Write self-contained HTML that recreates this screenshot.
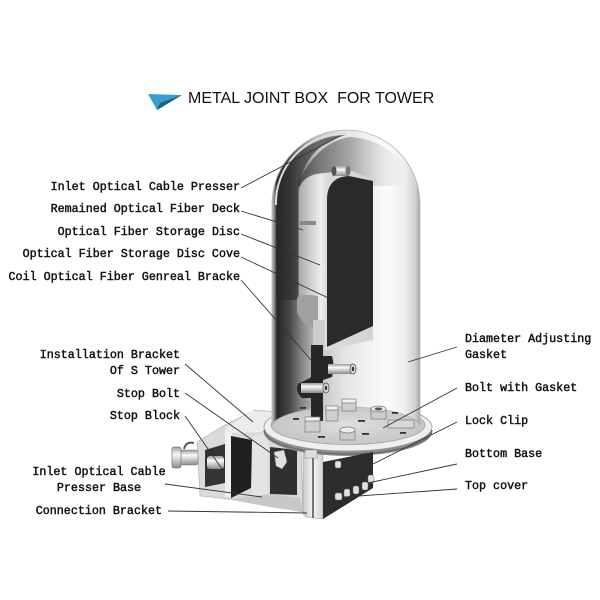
<!DOCTYPE html>
<html><head><meta charset="utf-8"><style>
html,body{margin:0;padding:0;background:#fff;width:600px;height:600px;overflow:hidden}
svg{display:block}
.l{font-family:"Liberation Mono","Noto Sans CJK SC",monospace;font-size:11.7px;fill:#111;stroke:#111;stroke-width:0.45px}
.t{font-family:"Liberation Sans",Arial,sans-serif;font-size:16px;fill:#111;white-space:pre}
.ld{stroke:#333;stroke-width:0.9;fill:none}
</style></head><body>
<svg width="600" height="600" viewBox="0 0 600 600" xmlns="http://www.w3.org/2000/svg">
<defs>
 <linearGradient id="cyl" gradientUnits="userSpaceOnUse" x1="272" y1="0" x2="420" y2="0">
  <stop offset="0" stop-color="#c4c4c4"/>
  <stop offset="0.015" stop-color="#8a8a8a"/>
  <stop offset="0.035" stop-color="#262626"/>
  <stop offset="0.12" stop-color="#474747"/>
  <stop offset="0.2" stop-color="#858585"/>
  <stop offset="0.3" stop-color="#c0c0c0"/>
  <stop offset="0.5" stop-color="#e6e6e6"/>
  <stop offset="0.78" stop-color="#fbfbfb"/>
  <stop offset="0.9" stop-color="#eeeeee"/>
  <stop offset="0.97" stop-color="#cfcfcf"/>
  <stop offset="1" stop-color="#a6a6a6"/>
 </linearGradient>
 <linearGradient id="topband" x1="0" y1="0" x2="1" y2="0">
  <stop offset="0" stop-color="#333"/>
  <stop offset="0.45" stop-color="#888"/>
  <stop offset="1" stop-color="#e8e8e8" stop-opacity="0"/>
 </linearGradient>
 <linearGradient id="panel" gradientUnits="userSpaceOnUse" x1="299" y1="0" x2="373" y2="0">
  <stop offset="0" stop-color="#a8a8a8"/>
  <stop offset="0.15" stop-color="#cfcfcf"/>
  <stop offset="0.3" stop-color="#ededed"/>
  <stop offset="0.38" stop-color="#dadada"/>
  <stop offset="1" stop-color="#d4d4d4"/>
 </linearGradient>
 <linearGradient id="pin" x1="0" y1="0" x2="0" y2="1">
  <stop offset="0" stop-color="#9a9a9a"/>
  <stop offset="0.35" stop-color="#fafafa"/>
  <stop offset="1" stop-color="#8a8a8a"/>
 </linearGradient>
 <linearGradient id="front" x1="0" y1="0" x2="1" y2="0">
  <stop offset="0" stop-color="#c8c8c8"/>
  <stop offset="0.5" stop-color="#f4f4f4"/>
  <stop offset="1" stop-color="#d0d0d0"/>
 </linearGradient>
 <radialGradient id="plate" cx="0.5" cy="0.5" r="0.5">
  <stop offset="0" stop-color="#dedede"/>
  <stop offset="1" stop-color="#c6c6c6"/>
 </radialGradient>
</defs>

<!-- title -->
<polygon points="148,94 182,95 157,110" fill="#3a9fd0"/>
<polygon points="160,103 182,95 157,110" fill="#1d5f7f"/>
<text class="t" x="188" y="103">METAL JOINT BOX&#160; FOR TOWER</text>

<!-- left bracket -->
<polygon points="197,442 225,425 255,410 300,414 303,512 270,506 232,499 200,496" fill="#dadada" stroke="#aaa" stroke-width="0.6"/>
<polygon points="225,428 252,411 292,413 300,422 262,432 232,433" fill="#ececec"/>
<polygon points="205,450 225,444 225,483 205,487" fill="#333"/>
<rect x="207" y="456" width="17" height="13" rx="3" fill="url(#pin)"/>
<polygon points="225,429 232,433 232,498 225,497" fill="#f0f0f0"/>
<polygon points="231,436 252,440 251,488 231,498" fill="#1f1f1f"/>
<polygon points="252,436 268,434 268,500 252,496" fill="#e4e4e4"/>
<polygon points="270,447 297,450 297,495 270,494" fill="#303030"/>
<path d="M274,452 L284,450 L287,462 L282,469 L276,466 Z" fill="#e0e0e0" stroke="#777" stroke-width="0.5"/>
<polygon points="200,496 232,499 270,494 300,498 303,512 270,507 232,500" fill="#c8c8c8"/>
<!-- cable presser -->
<rect x="180" y="450" width="18" height="15" rx="2" fill="url(#pin)" stroke="#777" stroke-width="0.5"/>
<rect x="172" y="447" width="9" height="21" rx="2" fill="url(#pin)" stroke="#666" stroke-width="0.6"/>
<path d="M184,449 Q186,441 194,443" stroke="#555" stroke-width="2" fill="none"/>

<!-- flange -->
<ellipse cx="348" cy="432" rx="84" ry="24" fill="#8c8c8c"/>
<ellipse cx="348" cy="427" rx="84" ry="24" fill="#efefef" stroke="#999" stroke-width="0.8"/>
<ellipse cx="348" cy="425" rx="77" ry="19.5" fill="url(#plate)" stroke="#a2a2a2" stroke-width="0.8"/>

<!-- cylinder / dome -->
<path d="M272,427 L272,204 A74,74 0 0 1 420,204 L420,427 A74,20 0 0 0 272,427 Z" fill="url(#cyl)" stroke="#b5b5b5" stroke-width="0.8"/>
<path d="M276,300 L276,205 A70,70 0 0 1 346,135 Q305,145 298,190 L298,300 Z" fill="#2a2a2a" opacity="0.6"/>
<path d="M298,182 Q318,142 350,137 Q392,140 412,178 L412,186 L298,186 Z" fill="url(#topband)" opacity="0.7"/>
<path d="M276,205 A70,70 0 0 1 346,133" stroke="#dcdcdc" stroke-width="2" fill="none"/>

<!-- storage disc panel -->
<path d="M299,300 L299,192 Q300,178 316,174 L350,170 L373,180 L373,340 L327,350 L318,350 L318,300 Z" fill="url(#panel)"/>
<path d="M297,298 Q300,293 318,296 L318,328 Q302,326 297,312 Z" fill="#a0a0a0"/>
<rect x="313" y="320" width="12" height="30" fill="#cdcdcd"/>
<rect x="300" y="221" width="16" height="4" fill="#8a8a8a"/>
<!-- top pin -->
<rect x="333" y="166" width="15" height="10" fill="url(#pin)"/>
<ellipse cx="334" cy="171" rx="2.5" ry="5" fill="#555"/>
<ellipse cx="348" cy="171" rx="2.5" ry="5" fill="#777"/>
<!-- dark cover -->
<path d="M327,347 L327,200 Q327,177 349,176 L373,181 L373,326 Z" fill="#2a2a2a"/>
<!-- coil bracket -->
<rect x="311" y="345" width="12" height="76" fill="#262626"/>
<path d="M316,356 L332,356 Q335,366 332,377 L323,380 L323,398 L302,398 Q295,392 298,384 L310,378 L316,370 Z" fill="#262626"/>
<!-- pins -->
<rect x="328" y="364" width="25" height="10" fill="url(#pin)"/>
<ellipse cx="353" cy="369" rx="3" ry="5" fill="#dcdcdc" stroke="#555" stroke-width="0.8"/>
<ellipse cx="353" cy="369" rx="1.2" ry="2.2" fill="#333"/>
<rect x="301" y="383" width="25" height="10" fill="url(#pin)"/>
<ellipse cx="326" cy="388" rx="3" ry="5" fill="#dcdcdc" stroke="#555" stroke-width="0.8"/>
<ellipse cx="326" cy="388" rx="1.2" ry="2.2" fill="#333"/>

<!-- nuts on flange -->
<g stroke="#7a7a7a" stroke-width="0.7">
<rect x="305" y="421" width="15" height="11" fill="#cfcfcf"/><rect x="305" y="417" width="15" height="4" fill="#f0f0f0"/>
<rect x="326" y="410" width="12" height="11" fill="#cfcfcf"/><rect x="326" y="406" width="12" height="4" fill="#f0f0f0"/>
<rect x="342" y="402" width="14" height="9" fill="#cfcfcf"/><rect x="342" y="399" width="14" height="4" fill="#f0f0f0"/>
<rect x="340" y="430" width="15" height="10" fill="#cccccc"/><ellipse cx="347.5" cy="430" rx="7.5" ry="3" fill="#eee"/>
<rect x="371" y="409" width="15" height="10" fill="#cccccc"/><ellipse cx="378.5" cy="409" rx="7.5" ry="3" fill="#eee"/><ellipse cx="378.5" cy="409" rx="3.5" ry="1.4" fill="#555"/>
<rect x="388" y="420" width="26" height="8" fill="#d8d8d8"/>
</g>
<g fill="#333">
<rect x="293" y="418" width="6" height="1.8"/><rect x="318" y="436" width="7" height="1.8"/><rect x="358" y="420" width="7" height="1.8"/>
<rect x="362" y="433" width="7" height="1.8"/><rect x="392" y="412" width="6" height="1.8"/><rect x="300" y="407" width="6" height="1.8"/>
<rect x="400" y="432" width="6" height="1.8"/>
</g>
<path d="M264,430 A84,24 0 0 0 432,430" stroke="#666" stroke-width="1.2" fill="none"/>

<!-- bottom base box -->
<path d="M303,452 L323,455 L323,519 L306,517 Q303,516 303,512 Z" fill="url(#front)" stroke="#999" stroke-width="0.5"/>
<line x1="313" y1="458" x2="313" y2="518" stroke="#222" stroke-width="1.2"/>
<polygon points="323,462 373,452 373,488 323,519" fill="#2c2c2c"/>
<g fill="#e0e0e0" stroke="#777" stroke-width="0.5">
<rect x="335" y="461" width="6" height="7" rx="2"/>
<rect x="335" y="493" width="7" height="7" rx="2"/>
<rect x="344" y="489" width="6" height="8" rx="2"/>
<rect x="353" y="486" width="6" height="8" rx="2"/>
<rect x="362" y="482" width="6" height="8" rx="2"/>
<rect x="368" y="475" width="6" height="8" rx="2"/>
</g>
<rect x="305" y="450" width="12" height="8" fill="#ddd" stroke="#888" stroke-width="0.5"/>

<!-- leader lines -->
<g class="ld">
<line x1="241" y1="188" x2="340" y2="136"/>
<line x1="241" y1="211" x2="303" y2="230"/>
<line x1="241" y1="234" x2="320" y2="265"/>
<line x1="241" y1="257" x2="337" y2="302"/>
<line x1="241" y1="280" x2="311" y2="360"/>
<line x1="185" y1="364" x2="253" y2="422"/>
<line x1="185" y1="393" x2="278" y2="458"/>
<line x1="185" y1="416" x2="222" y2="469"/>
<line x1="165" y1="484" x2="262" y2="497"/>
<line x1="168" y1="511" x2="307" y2="513"/>
<line x1="457" y1="347" x2="408" y2="362"/>
<line x1="457" y1="388" x2="383" y2="428"/>
<line x1="457" y1="422" x2="367" y2="467"/>
<line x1="457" y1="464" x2="368" y2="483"/>
<line x1="457" y1="489" x2="345" y2="497"/>
</g>

<!-- labels -->
<g class="l" text-anchor="end">
<text x="240" y="190">Inlet Optical Cable Presser</text>
<text x="240" y="212">Remained Optical Fiber Deck</text>
<text x="240" y="235">Optical Fiber Storage Disc</text>
<text x="240" y="257">Optical Fiber Storage Disc Cove</text>
<text x="240" y="280">Coil Optical Fiber Genreal Bracke</text>
<text x="180" y="358">Installation Bracket</text>
<text x="180" y="374">Of S Tower</text>
<text x="180" y="397">Stop Bolt</text>
<text x="180" y="419">Stop Block</text>
<text x="162" y="514">Connection Bracket</text>
</g>
<g class="l" text-anchor="middle">
<text x="99" y="475">Inlet Optical Cable</text>
<text x="99" y="491">Presser Base</text>
</g>
<g class="l">
<text x="465" y="342">Diameter Adjusting</text>
<text x="465" y="358">Gasket</text>
<text x="465" y="391">Bolt with Gasket</text>
<text x="465" y="424">Lock Clip</text>
<text x="465" y="457">Bottom Base</text>
<text x="465" y="489">Top cover</text>
</g>
</svg>
</body></html>
